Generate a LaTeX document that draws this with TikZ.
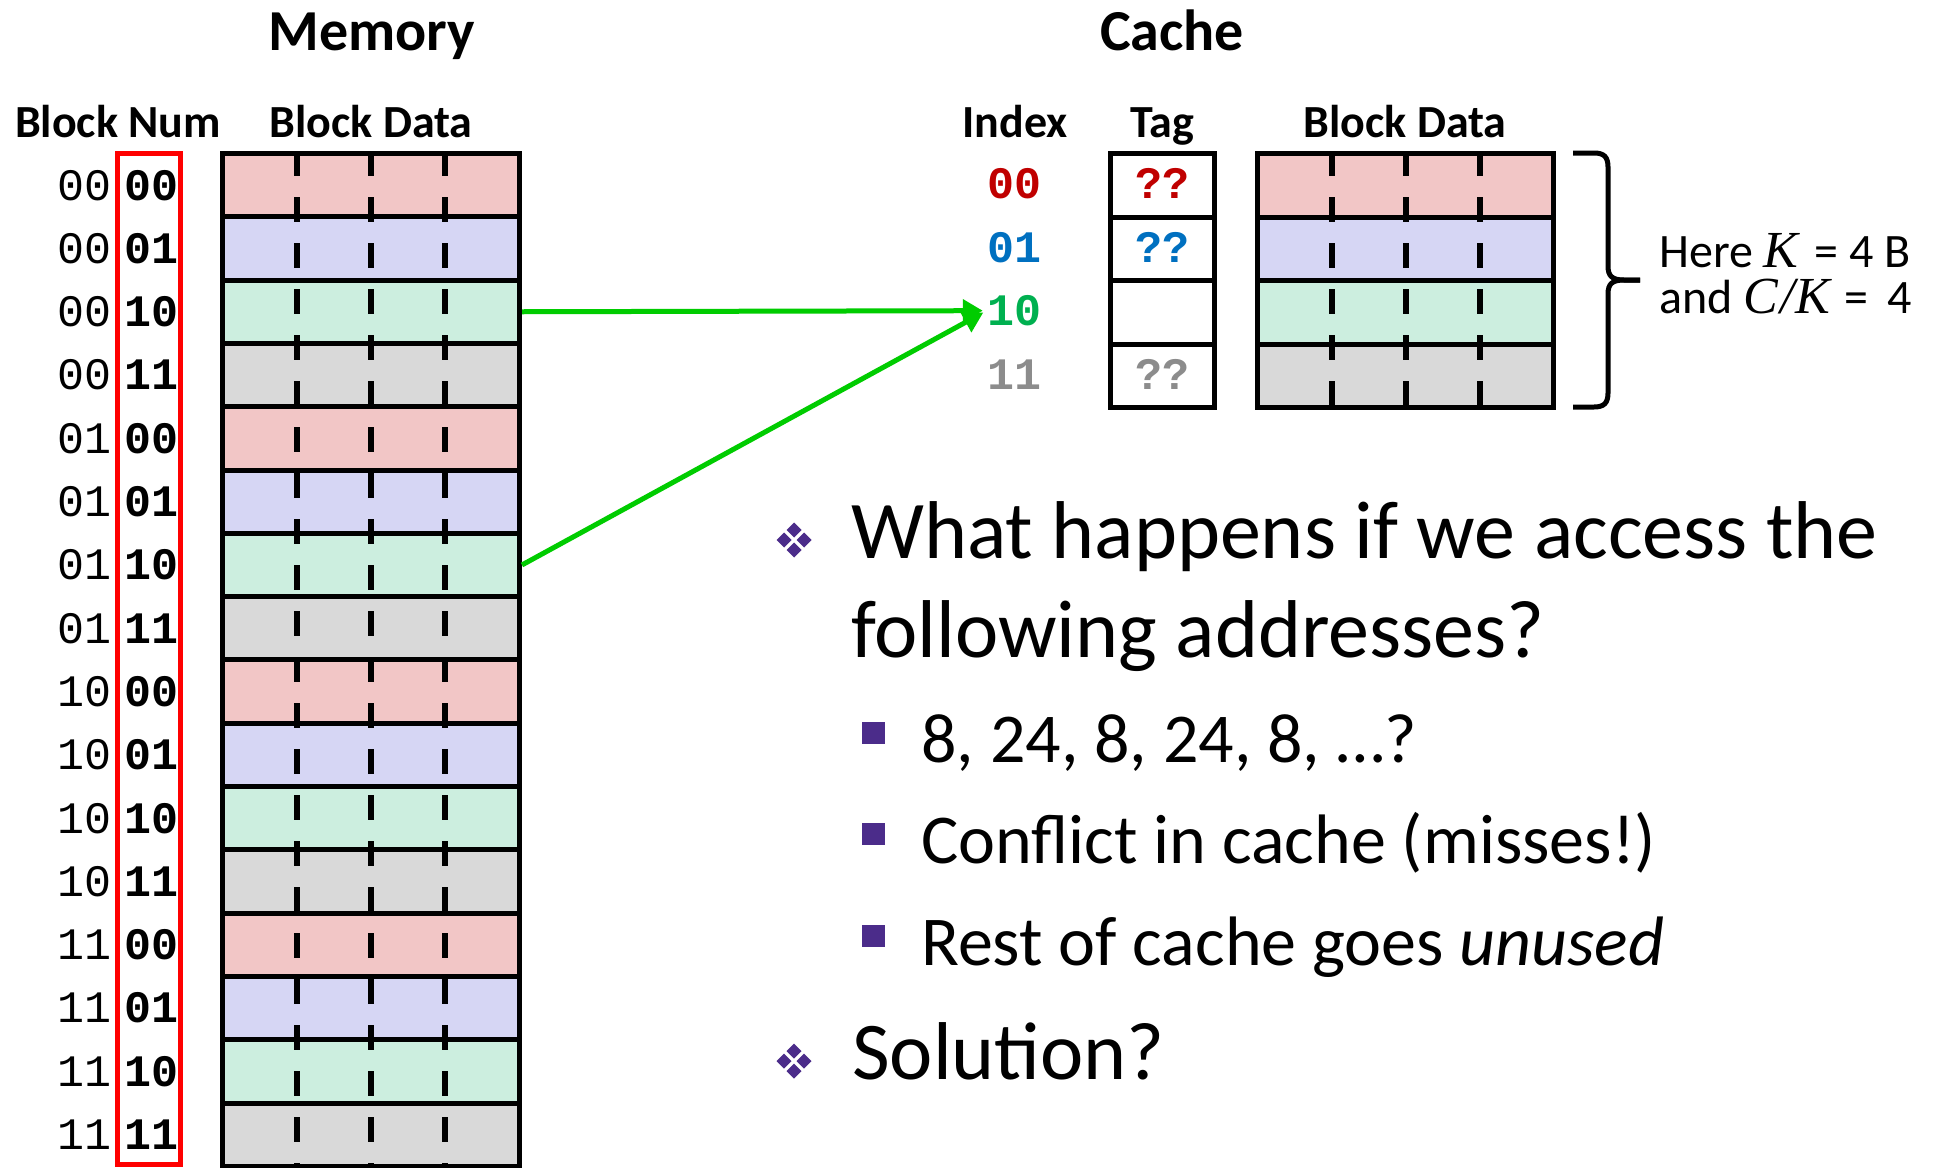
\documentclass[tikz,border=0pt]{standalone}
\usepackage{fontspec}
\setmainfont{Carlito}
\newfontfamily\monof{Liberation Mono}
\newfontfamily\serifit{Liberation Serif}
\newcommand{\kf}{\serifit\itshape\fontsize{52}{46}\selectfont}
\usetikzlibrary{arrows.meta}
\definecolor{rowpink}{HTML}{F2C6C6}
\definecolor{rowblue}{HTML}{D6D6F4}
\definecolor{rowgreen}{HTML}{CCEEDF}
\definecolor{rowgray}{HTML}{D9D9D9}
\definecolor{bulletpurple}{HTML}{4B2C8A}
\definecolor{idxred}{HTML}{C00000}
\definecolor{idxblue}{HTML}{0070C0}
\definecolor{idxgreen}{HTML}{00B050}
\definecolor{idxgray}{HTML}{8C8C8C}
\definecolor{arrowgreen}{HTML}{00CC00}
\tikzset{
  memrow/.style={draw=black, line width=5pt, minimum width=297pt, minimum height=63.3pt, inner sep=0pt},
  tagrow/.style={draw=black, line width=5pt, fill=white, minimum width=104pt, minimum height=63.5pt, inner sep=0pt},
  cacherow/.style={draw=black, line width=5pt, minimum width=296pt, minimum height=63.5pt, inner sep=0pt},
  dashline/.style={draw=black, line width=6pt, dash pattern=on 25pt off 21pt},
  header/.style={anchor=base, inner sep=0pt, font=\fontsize{46}{50}\selectfont\bfseries},
  title/.style={anchor=base, inner sep=0pt, font=\fontsize{58}{62}\selectfont\bfseries},
  thinnum/.style={anchor=base, inner sep=0pt, font=\fontsize{45}{50}\selectfont\monof},
  boldnum/.style={anchor=base, inner sep=0pt, font=\fontsize{45}{50}\selectfont\monof\bfseries},
  greenarrow/.style={draw=arrowgreen, line width=5pt, -{Triangle[length=20pt,width=22pt]}, shorten >=4pt},
  bigtext/.style={anchor=base west, inner sep=0pt, font=\fontsize{82}{98}\selectfont},
  subtext/.style={anchor=base west, inner sep=0pt, font=\fontsize{70}{84}\selectfont},
  notetext/.style={anchor=base west, inner sep=0pt, text height=32pt, text depth=6pt, font=\fontsize{48}{46}\selectfont},
  fourdiamond/.pic={
    \foreach \dx/\dy in {0/-10,0/10,-10/0,10/0}
      \fill[bulletpurple] (\dx,\dy) +(0,-7.5) -- +(7.5,0) -- +(0,7.5) -- +(-7.5,0) -- cycle;
  }
}
\begin{document}
\begin{tikzpicture}[x=1pt, y=-1pt]
\useasboundingbox (0,0) rectangle (1934,1167);
\fill[white] (0,0) rectangle (1934,1167);

% headers
\node[title] (memtitle) at (372,50) {Memory};
\node[title] (cachetitle) at (1172,50) {Cache};
\node[header] (hblocknum) at (118,137) {Block Num};
\node[header] (hblockdata) at (371,137) {Block Data};
\node[header] (hindex) at (1015,137) {Index};
\node[header] (htag) at (1162,137) {Tag};
\node[header] (hcdata) at (1405,137) {Block Data};

% memory rows
\foreach \i/\hi/\lo/\c in {0/00/00/rowpink,1/00/01/rowblue,2/00/10/rowgreen,3/00/11/rowgray,
  4/01/00/rowpink,5/01/01/rowblue,6/01/10/rowgreen,7/01/11/rowgray,
  8/10/00/rowpink,9/10/01/rowblue,10/10/10/rowgreen,11/10/11/rowgray,
  12/11/00/rowpink,13/11/01/rowblue,14/11/10/rowgreen,15/11/11/rowgray}{
  \node[memrow, fill=\c] (m\i) at (371, {153.5+63.3*\i+31.65}) {};
  \node[thinnum] (nh\i) at (84.5, {153.5+63.3*\i+46.5}) {\hi};
  \node[boldnum] (nl\i) at (152, {153.5+63.3*\i+46.5}) {\lo};
}
\foreach \x in {296.75,371,445.25}
  \draw[dashline] (\x,151) -- (\x,1167);
\node[draw=red, line width=5pt, minimum width=63pt, minimum height=1011pt, inner sep=0pt] (numbox) at (149,659) {};

% cache
\foreach \i/\c in {0/rowpink,1/rowblue,2/rowgreen,3/rowgray}{
  \node[tagrow] (t\i) at (1162.5, {153.5+63.5*\i+31.75}) {};
  \node[cacherow, fill=\c] (c\i) at (1405.5, {153.5+63.5*\i+31.75}) {};
}
\foreach \x in {1331.5,1405.5,1479.5}
  \draw[dashline] (\x,151) -- (\x,410);
\node[boldnum, text=idxred] (i0) at (1014,198.5) {00};
\node[boldnum, text=idxblue] (i1) at (1014,262) {01};
\node[boldnum, text=idxgreen] (i2) at (1014,325.5) {10};
\node[boldnum, text=idxgray] (i3) at (1014,389) {11};
\node[boldnum, text=idxred] (q0) at (1162.5,198.5) {??};
\node[boldnum, text=idxblue] (q1) at (1162.5,262) {??};
\node[boldnum, text=idxgray] (q3) at (1162.5,389) {??};

% brace
\draw[line width=5pt] (1573,153) -- (1594,153) .. controls (1604,153) and (1608,157) .. (1608,167)
  -- (1608,266) .. controls (1608,276) and (1612,280) .. (1624,280) -- (1640,280);
\draw[line width=5pt] (1640,280) -- (1624,280) .. controls (1612,280) and (1608,284) .. (1608,294)
  -- (1608,393) .. controls (1608,403) and (1604,407) .. (1594,407) -- (1573,407);
\node[notetext] (note1) at (1659,267) {Here {\kf K}\hspace{16pt}= 4 B};
\node[notetext] (note2) at (1659,313) {and {\kf C\hspace{2pt}/\hspace{1pt}K}\hspace{14pt}=\hspace{8pt} 4};

% arrows
\draw[greenarrow] (m2.east) -- (i2.west);
\draw[greenarrow] (m6.east) -- (i2.west);

% bullets
\pic at (794,540) {fourdiamond};
\pic at (794,1061) {fourdiamond};
\fill[bulletpurple] (862,722) rectangle (885,744);
\fill[bulletpurple] (862,823) rectangle (885,845);
\fill[bulletpurple] (862,925) rectangle (885,947);
\node[bigtext] (b1) at (851,558) {What happens if we access the};
\node[bigtext] (b1b) at (851,657) {following addresses?};
\node[subtext] (s1) at (921,762) {8, 24, 8, 24, 8, …?};
\node[subtext] (s2) at (921,863) {Conflict in cache (misses!)};
\node[subtext] (s3) at (921,965) {Rest of cache goes \textit{unused}};
\node[bigtext] (b2) at (852,1079) {Solution?};
\end{tikzpicture}
\end{document}
